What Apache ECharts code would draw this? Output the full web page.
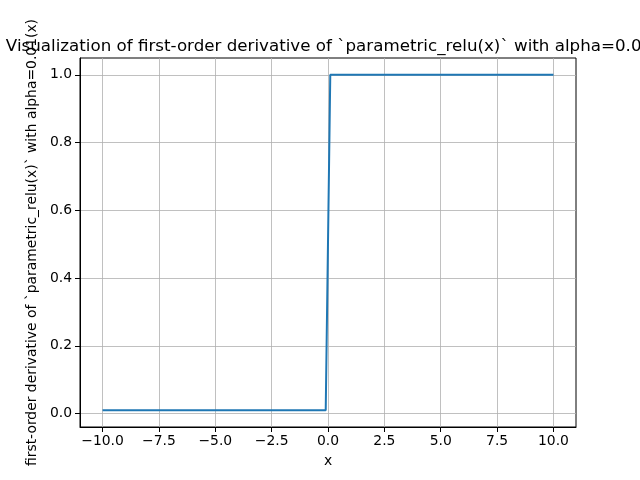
<!DOCTYPE html>
<html>
<head>
<meta charset="utf-8">
<script src="https://cdn.jsdelivr.net/npm/echarts@6/dist/echarts.min.js"></script>
<style>
  html, body { margin: 0; padding: 0; background: #fff; }
  #chart { width: 640px; height: 480px; }
</style>
</head>
<body>
<div id="chart"></div>
<script>
// derivative of parametric relu, alpha = 0.01
const xValues = [-10, -0.101, 0.101, 10];
const yValues = [0.01, 0.01, 1, 1];

const xTicks = [-10, -7.5, -5, -2.5, 0, 2.5, 5, 7.5, 10];
const yTicks = [0, 0.2, 0.4, 0.6, 0.8, 1.0];

const titleText = 'Visualization of first-order derivative of `parametric_relu(x)` with alpha=0.01';
const yName = 'first-order derivative of `parametric_relu(x)` with alpha=0.01(x)';

const fmt = v => {
  const s = v.toFixed(1);
  return v < 0 ? '\u2212' + s.slice(1) : s;
};

const font = 'DejaVu Sans';
const chart = echarts.init(document.getElementById('chart'));

chart.setOption({
  animation: false,
  backgroundColor: '#fff',
  title: {
    text: titleText,
    left: 324,
    top: 33,
    textAlign: 'center',
    textStyle: { fontFamily: font, fontSize: 16.7, fontWeight: 'normal', color: '#000' }
  },
  grid: {
    left: 80, right: 64, top: 58, bottom: 53,
    show: true,
    borderColor: '#000',
    borderWidth: 1,
    backgroundColor: 'transparent'
  },
  xAxis: {
    type: 'value',
    min: -11,
    max: 11,
    name: 'x',
    nameLocation: 'middle',
    nameGap: 27,
    nameTextStyle: { fontFamily: font, fontSize: 13.9, color: '#000' },
    axisLine: { onZero: false, lineStyle: { color: '#000', width: 1 } },
    axisTick: { show: true, inside: false, length: 5, customValues: xTicks, lineStyle: { color: '#000' } },
    axisLabel: { customValues: xTicks, formatter: fmt, margin: 7, fontFamily: font, fontSize: 13.9, color: '#000' },
    splitLine: { show: true, lineStyle: { color: '#b0b0b0', width: 0.8 } }
  },
  yAxis: {
    type: 'value',
    min: -0.0395,
    max: 1.0495,
    name: yName,
    nameLocation: 'middle',
    nameGap: 37,
    nameTextStyle: { fontFamily: font, fontSize: 13.9, color: '#000' },
    axisLine: { show: true, onZero: false, lineStyle: { color: '#000', width: 1 } },
    axisTick: { show: true, inside: false, length: 5, customValues: yTicks, lineStyle: { color: '#000' } },
    axisLabel: { customValues: yTicks, formatter: fmt, margin: 8, fontFamily: font, fontSize: 13.9, color: '#000' },
    splitLine: { show: true, lineStyle: { color: '#b0b0b0', width: 0.8 } }
  },
  series: [{
    type: 'line',
    data: xValues.map((x, i) => [x, yValues[i]]),
    showSymbol: false,
    symbol: 'none',
    lineStyle: { color: '#1f77b4', width: 2 },
    z: 3
  }]
});
</script>
</body>
</html>
